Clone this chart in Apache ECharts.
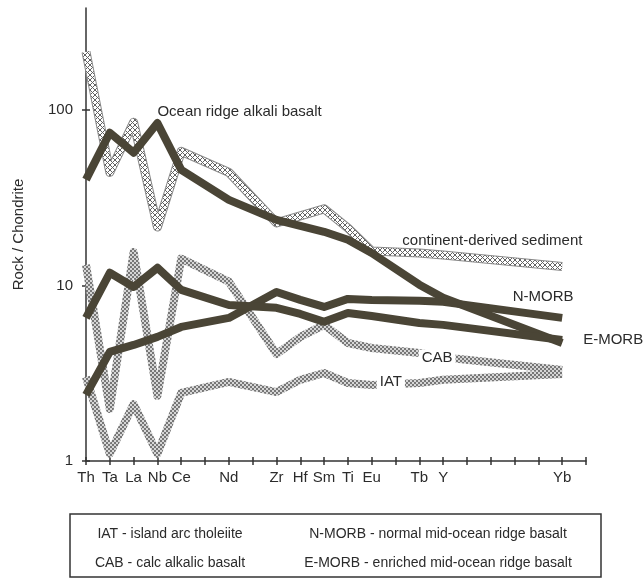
<!DOCTYPE html>
<html><head><meta charset="utf-8">
<script src="https://cdn.jsdelivr.net/npm/echarts@6/dist/echarts.min.js"></script>
<style>html,body{margin:0;padding:0;background:#fff}#c{width:643px;height:579px}</style>
</head><body><div id="c"></div>
<script>
// x tick labels (empty = unlabeled tick)
const tickLabels = ['Th','Ta','La','Nb','Ce','','Nd','','Zr','Hf','Sm','Ti','Eu','','Tb','Y','','','','','Yb',''];
const yTicks = [1, 10, 100];

// Rock / Chondrite values per category (null = no data)
const sediment = [214, 44, 85, 21.5, 58, null, 44, null, 22.7, 24.9, 27.3, 21.2, 15.7, null, 15.3, 14.9, null, null, null, null, 12.8, null];
const oceanRidge = [40, 74, 57, 84, 45.5, null, 30.7, null, 23.6, 21.8, 20.2, 18.2, 15.3, null, 10.1, 8.5, null, null, null, null, 4.7, null];
const nMorb = [2.38, 4.18, 4.58, 5.09, 5.8, null, 6.53, null, 9.18, 8.27, 7.54, 8.38, 8.27, null, 8.17, 8.06, null, null, null, null, 6.53, null];
const eMorb = [6.53, 11.8, 9.8, 12.6, 9.43, null, 7.74, null, 7.45, 6.88, 6.2, 6.97, 6.7, null, 6.11, 5.96, null, null, null, null, 4.89, null];
const cab = [13.1, 1.98, 15.5, 2.35, 14.2, null, 10.5, null, 4.07, 5.09, 5.96, 4.7, 4.4, null, 4.12, 3.9, null, null, null, null, 3.3, null];
const iat = [3.01, 1.1, 2.11, 1.1, 2.44, null, 2.82, null, 2.47, 2.9, 3.17, 2.78, 2.71, null, 2.78, 2.9, null, null, null, null, 3.13, null];

const categories = tickLabels.map((t, i) => t || ('gap' + i));
const FONT = '"Liberation Sans", Arial, Helvetica, sans-serif';
const TXT = '#2b2b2b';
const DARK = '#4a4536';

function makePattern(kind) {
  const c = document.createElement('canvas');
  if (kind === 'dots') {
    c.width = 4; c.height = 4;
    const g = c.getContext('2d');
    g.fillStyle = '#d6d6d6'; g.fillRect(0, 0, 4, 4);
    g.fillStyle = '#777777'; g.fillRect(0, 0, 2, 2); g.fillRect(2, 2, 2, 2);
  } else {
    c.width = 5; c.height = 5;
    const g = c.getContext('2d');
    g.fillStyle = '#ffffff'; g.fillRect(0, 0, 5, 5);
    g.strokeStyle = '#626262'; g.lineWidth = 1;
    g.beginPath(); g.moveTo(0, 0); g.lineTo(5, 5); g.moveTo(5, 0); g.lineTo(0, 5); g.stroke();
  }
  return { image: c, repeat: 'repeat' };
}
const dotPat = makePattern('dots');
const crossPat = makePattern('cross');

function lbl(text, cat, val, position, offset, bg) {
  return {
    coord: [cat, val], symbolSize: 0,
    label: {
      show: true, formatter: text, position: position, offset: offset, distance: 5,
      color: TXT, fontFamily: FONT, fontSize: 15,
      backgroundColor: bg ? '#ffffff' : 'transparent', padding: bg ? [1, 3] : 0
    }
  };
}

function lineSeries(name, data, color, width, marks, z) {
  return {
    name: name, type: 'line', data: data, connectNulls: true, showSymbol: false, symbol: 'none',
    lineStyle: { color: color, width: width, cap: 'butt', join: 'round' },
    z: z, silent: true,
    markPoint: marks ? { symbolSize: 0, z: 20, silent: true, data: marks, animation: false } : undefined
  };
}

const chart = echarts.init(document.getElementById('c'), null, { renderer: 'canvas' });
chart.setOption({
  animation: false,
  backgroundColor: '#ffffff',
  grid: { left: 86, right: 57, top: 8, bottom: 118 },
  xAxis: [{
    type: 'category', data: categories, boundaryGap: false, position: 'bottom',
    axisLine: { lineStyle: { color: '#333', width: 1.5 } },
    axisTick: { show: true, interval: 0, length: 4, lineStyle: { color: '#333', width: 1.5 } },
    axisLabel: { interval: 0, margin: 9, color: TXT, fontFamily: FONT, fontSize: 15,
      formatter: v => v.indexOf('gap') === 0 ? '' : v },
    splitLine: { show: false }
  }, {
    type: 'category', data: categories, boundaryGap: false, position: 'bottom',
    axisLine: { show: false },
    axisTick: { show: true, inside: true, interval: 0, length: 4, lineStyle: { color: '#333', width: 1.5 } },
    axisLabel: { show: false }, splitLine: { show: false }
  }],
  yAxis: [{
    type: 'log', logBase: 10, min: 1, max: 380, position: 'left',
    name: 'Rock / Chondrite', nameLocation: 'middle', nameGap: 60, nameRotate: 90,
    nameTextStyle: { color: TXT, fontFamily: FONT, fontSize: 15 },
    axisLine: { show: true, lineStyle: { color: '#333', width: 1.5 } },
    axisTick: { show: true, length: 4, customValues: yTicks, lineStyle: { color: '#333', width: 1.5 } },
    axisLabel: { customValues: yTicks, margin: 13, color: TXT, fontFamily: FONT, fontSize: 15 },
    splitLine: { show: false }
  }, {
    type: 'log', logBase: 10, min: 1, max: 380, position: 'left',
    axisLine: { show: false },
    axisTick: { show: true, inside: true, length: 4, customValues: yTicks, lineStyle: { color: '#333', width: 1.5 } },
    axisLabel: { show: false }, splitLine: { show: false }
  }],
  series: [
    lineSeries('IAT', iat, dotPat, 8, [lbl('IAT', 'Eu', 2.71, 'right', [0, -3], true)], 2),
    lineSeries('CAB', cab, dotPat, 8, [lbl('CAB', 'Y', 3.9, 'inside', [-6, 1], true)], 2),
    lineSeries('sediment-outline', sediment, '#8a8a8a', 9, null, 3),
    lineSeries('continent-derived sediment', sediment, crossPat, 7,
      [lbl('continent-derived sediment', 'Tb', 15.3, 'right', [-22, -12], false)], 4),
    lineSeries('Ocean ridge alkali basalt', oceanRidge, DARK, 8,
      [lbl('Ocean ridge alkali basalt', 'Nb', 84.3, 'right', [-5, -11], false)], 5),
    lineSeries('N-MORB', nMorb, DARK, 8, [lbl('N-MORB', 'Yb', 6.53, 'inside', [-19, -21], false)], 5),
    lineSeries('E-MORB', eMorb, DARK, 8, [lbl('E-MORB', 'Yb', 4.89, 'right', [16, 0], false)], 5)
  ],
  graphic: [
    { type: 'rect', shape: { x: 70, y: 514, width: 531, height: 63 },
      style: { fill: '#ffffff', stroke: '#333', lineWidth: 1.5 } },
    { type: 'text', x: 170, y: 534, style: { text: 'IAT - island arc tholeiite', align: 'center', verticalAlign: 'middle', font: '14px ' + FONT, fill: TXT } },
    { type: 'text', x: 170, y: 563, style: { text: 'CAB - calc alkalic basalt', align: 'center', verticalAlign: 'middle', font: '14px ' + FONT, fill: TXT } },
    { type: 'text', x: 438, y: 534, style: { text: 'N-MORB - normal mid-ocean ridge basalt', align: 'center', verticalAlign: 'middle', font: '14px ' + FONT, fill: TXT } },
    { type: 'text', x: 438, y: 563, style: { text: 'E-MORB - enriched mid-ocean ridge basalt', align: 'center', verticalAlign: 'middle', font: '14px ' + FONT, fill: TXT } }
  ]
});
</script></body></html>
